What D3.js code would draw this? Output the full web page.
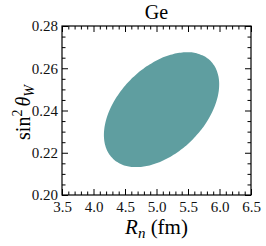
<!DOCTYPE html>
<html>
<head>
  <meta charset="utf-8">
  <title>Ge</title>
  <script src="https://d3js.org/d3.v7.min.js"></script>
  <style>
    body { margin: 0; background: #fff; }
    svg { display: block; }
    svg text { font-family: "Liberation Serif", "DejaVu Serif", serif; }
  </style>
</head>
<body>
<svg id="chart" width="266" height="246"></svg>
<script>
  // axis data
  const xTicks = [3.5, 4.0, 4.5, 5.0, 5.5, 6.0, 6.5];
  const yTicks = [0.20, 0.22, 0.24, 0.26, 0.28];
  const xMinorStep = 0.1;
  const yMinorStep = 0.005;

  // confidence ellipse: centre, half-extents, correlation
  const ellipseCenter = [5.08, 0.2404];
  const ellipseHalf = [0.915, 0.0272];
  const ellipseRho = 0.44;

  const margin = { top: 26, right: 15, bottom: 51, left: 62 },
        width = 266 - margin.left - margin.right,
        height = 246 - margin.top - margin.bottom;

  const svg = d3.select("#chart");
  const g = svg.append("g").attr("transform", `translate(${margin.left},${margin.top})`);

  const x = d3.scaleLinear().domain([3.5, 6.5]).range([0, width]);
  const y = d3.scaleLinear().domain([0.20, 0.28]).range([height, 0]);

  // ellipse outline in data space
  const nPts = 120;
  const pts = d3.range(nPts).map(i => {
    const t = 2 * Math.PI * i / nPts;
    return [
      ellipseCenter[0] + ellipseHalf[0] * Math.cos(t),
      ellipseCenter[1] + ellipseHalf[1] * (ellipseRho * Math.cos(t) + Math.sqrt(1 - ellipseRho * ellipseRho) * Math.sin(t))
    ];
  });
  g.append("path")
    .datum(pts)
    .attr("fill", "#5f9ea0")
    .attr("d", d3.line().x(d => x(d[0])).y(d => y(d[1])).curve(d3.curveCardinalClosed));

  const xMinor = d3.range(3.5, 6.5001, xMinorStep).filter(v => Math.abs(Math.round(v * 2) - v * 2) > 1e-6);
  const yMinor = d3.range(0.20, 0.28001, yMinorStep).filter(v => Math.abs(Math.round(v * 50) - v * 50) > 1e-6);

  function addAxis(axis, tx, ty) {
    const a = g.append("g").attr("transform", `translate(${tx},${ty})`).call(axis);
    a.attr("font-family", null).attr("font-size", null);
    a.select(".domain").remove();
    a.selectAll("line").attr("stroke", "#000");
    a.selectAll("text").style("font-size", "15px").attr("fill", "#111");
    return a;
  }

  // major ticks, inward on all four sides
  addAxis(d3.axisBottom(x).tickValues(xTicks).tickSize(-6).tickPadding(6).tickFormat(d3.format(".1f")), 0, height);
  addAxis(d3.axisTop(x).tickValues(xTicks).tickSize(-6).tickFormat(""), 0, 0);
  addAxis(d3.axisLeft(y).tickValues(yTicks).tickSize(-6).tickPadding(4).tickFormat(d3.format(".2f")), 0, 0);
  addAxis(d3.axisRight(y).tickValues(yTicks).tickSize(-6).tickFormat(""), width, 0);

  // minor ticks
  addAxis(d3.axisBottom(x).tickValues(xMinor).tickSize(-3.5).tickFormat(""), 0, height);
  addAxis(d3.axisTop(x).tickValues(xMinor).tickSize(-3.5).tickFormat(""), 0, 0);
  addAxis(d3.axisLeft(y).tickValues(yMinor).tickSize(-3.5).tickFormat(""), 0, 0);
  addAxis(d3.axisRight(y).tickValues(yMinor).tickSize(-3.5).tickFormat(""), width, 0);

  // frame
  g.append("rect")
    .attr("width", width).attr("height", height)
    .attr("fill", "none").attr("stroke", "#000").attr("stroke-width", 1.2);

  // title
  svg.append("text")
    .attr("x", margin.left + width / 2).attr("y", 19)
    .attr("text-anchor", "middle").style("font-size", "20px")
    .text("Ge");

  // x label
  const xl = svg.append("text")
    .attr("x", margin.left + width / 2).attr("y", 234)
    .attr("text-anchor", "middle").style("font-size", "21px");
  xl.append("tspan").attr("font-style", "italic").text("R");
  xl.append("tspan").attr("font-style", "italic").style("font-size", "15px").attr("dy", 4).text("n");
  xl.append("tspan").attr("dy", -4).text(" (fm)");

  // y label
  const yl = svg.append("text")
    .attr("transform", `translate(30,${margin.top + height / 2 + 2}) rotate(-90)`)
    .attr("text-anchor", "middle").style("font-size", "20px");
  yl.append("tspan").text("sin");
  yl.append("tspan").style("font-size", "14px").attr("dy", -8).text("2");
  yl.append("tspan").attr("dy", 8).attr("dx", 3).attr("font-style", "italic").text("θ");
  yl.append("tspan").attr("font-style", "italic").style("font-size", "14px").attr("dy", 4).text("W");
</script>
</body>
</html>
